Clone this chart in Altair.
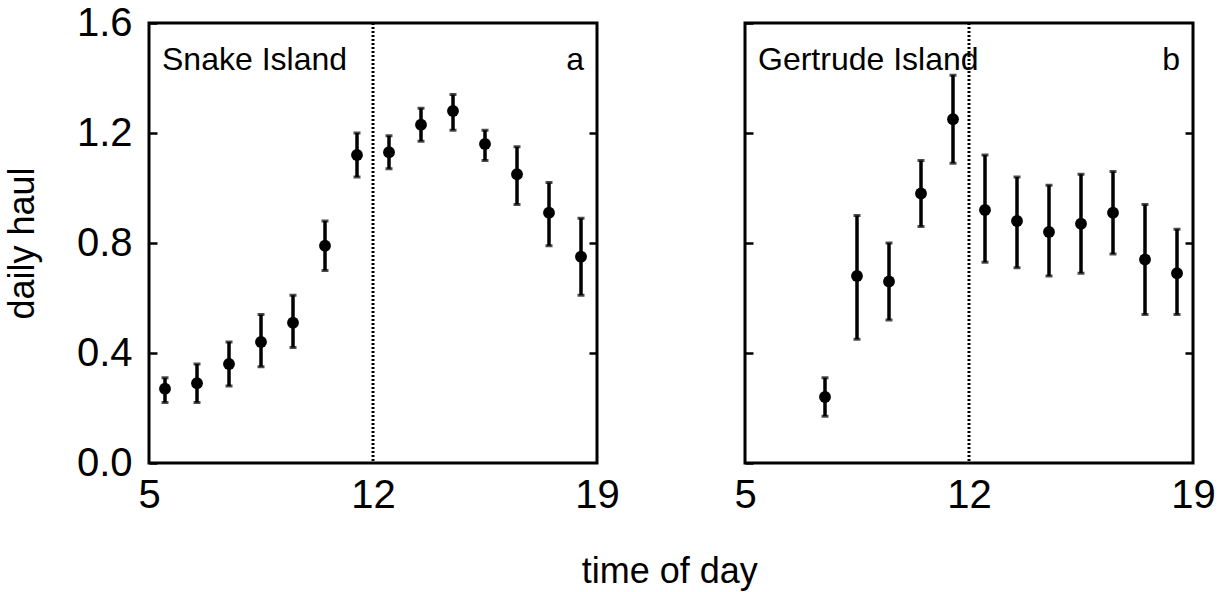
import altair as alt
import pandas as pd

# Hour of day (bin centres) and mean daily haul with error-bar limits
snake_time = [5.5, 6.5, 7.5, 8.5, 9.5, 10.5, 11.5, 12.5, 13.5, 14.5, 15.5, 16.5, 17.5, 18.5]
snake_mean = [0.27, 0.29, 0.36, 0.44, 0.51, 0.79, 1.12, 1.13, 1.23, 1.28, 1.16, 1.05, 0.91, 0.75]
snake_low = [0.22, 0.22, 0.28, 0.35, 0.42, 0.70, 1.04, 1.07, 1.17, 1.21, 1.10, 0.94, 0.79, 0.61]
snake_high = [0.31, 0.36, 0.44, 0.54, 0.61, 0.88, 1.20, 1.19, 1.29, 1.34, 1.21, 1.15, 1.02, 0.89]

gertrude_time = [7.5, 8.5, 9.5, 10.5, 11.5, 12.5, 13.5, 14.5, 15.5, 16.5, 17.5, 18.5]
gertrude_mean = [0.24, 0.68, 0.66, 0.98, 1.25, 0.92, 0.88, 0.84, 0.87, 0.91, 0.74, 0.69]
gertrude_low = [0.17, 0.45, 0.52, 0.86, 1.09, 0.73, 0.71, 0.68, 0.69, 0.76, 0.54, 0.54]
gertrude_high = [0.31, 0.90, 0.80, 1.10, 1.41, 1.12, 1.04, 1.01, 1.05, 1.06, 0.94, 0.85]

noon = [12]
x_ticks = [5, 12, 19]
y_ticks = [0.0, 0.4, 0.8, 1.2, 1.6]

FONT = "Liberation Sans"
PANEL_W = 448
PANEL_H = 440
INNER_TICK = 8


def panel(times, means, lows, highs, name, letter, first):
    df = pd.DataFrame({"time": times, "haul": means, "low": lows, "high": highs})
    noon_df = pd.DataFrame({"time": noon})

    x_axis = alt.Axis(
        values=x_ticks, labelFlush=False, ticks=False, domain=False, grid=False,
        labelPadding=12, labelFontSize=40, labelFont=FONT, labelColor="black",
        title=None,
    )
    x_enc = alt.X("time:Q", scale=alt.Scale(domain=[5, 19], nice=False, zero=False), axis=x_axis)
    y_scale = alt.Scale(domain=[0, 1.6], nice=False, zero=True)

    # inward-pointing ticks on the left edge (labels only on the first panel)
    left_kwargs = dict(
        values=y_ticks, orient="left", offset=-INNER_TICK, tickSize=INNER_TICK,
        tickWidth=2.5, tickColor="black", domain=False, grid=False,
        labels=first, labelFontSize=40, labelFont=FONT, labelColor="black",
        labelPadding=17, format=".1f",
    )
    if first:
        left_kwargs.update(
            title="daily haul", titleFont=FONT, titleFontSize=36,
            titleFontWeight="normal", titleColor="black", titlePadding=35,
        )
    else:
        left_kwargs.update(title=None)
    left_axis = alt.Axis(**left_kwargs)

    # inward-pointing ticks on the right edge
    right_axis = alt.Axis(
        values=[0.4, 0.8, 1.2], orient="right", offset=-INNER_TICK, tickSize=INNER_TICK,
        tickWidth=2.5, tickColor="black", domain=False, grid=False, labels=False,
        title=None,
    )

    base = alt.Chart(df)
    points = base.mark_circle(size=140, color="black", opacity=1).encode(
        x=x_enc, y=alt.Y("haul:Q", scale=y_scale, axis=left_axis)
    )
    bars = base.mark_rule(color="black", strokeWidth=3.5).encode(
        x=x_enc, y=alt.Y("low:Q", scale=y_scale, axis=right_axis), y2="high:Q"
    )
    cap_low = base.mark_tick(orient="horizontal", size=7, thickness=3, color="black").encode(
        x=x_enc, y=alt.Y("low:Q", scale=y_scale, axis=None)
    )
    cap_high = base.mark_tick(orient="horizontal", size=7, thickness=3, color="black").encode(
        x=x_enc, y=alt.Y("high:Q", scale=y_scale, axis=None)
    )
    noon_line = alt.Chart(noon_df).mark_rule(
        color="black", strokeWidth=3, strokeDash=[2, 2]
    ).encode(x=x_enc)

    name_text = alt.Chart(pd.DataFrame({"label": [name]})).mark_text(
        align="left", baseline="alphabetic", fontSize=32, font=FONT, color="black"
    ).encode(x=alt.value(13), y=alt.value(47), text="label:N")
    letter_text = alt.Chart(pd.DataFrame({"label": [letter]})).mark_text(
        align="right", baseline="alphabetic", fontSize=32, font=FONT, color="black"
    ).encode(x=alt.value(435), y=alt.value(47), text="label:N")

    return (
        alt.layer(noon_line, bars, cap_low, cap_high, points, name_text, letter_text)
        .resolve_axis(y="independent")
        .properties(width=PANEL_W, height=PANEL_H)
    )


left = panel(snake_time, snake_mean, snake_low, snake_high, "Snake Island", "a", True)
right = panel(gertrude_time, gertrude_mean, gertrude_low, gertrude_high, "Gertrude Island", "b", False)

chart = (
    alt.hconcat(left, right, spacing=111)
    .properties(
        title=alt.TitleParams(
            text="time of day", orient="bottom", anchor="middle", fontSize=36,
            font=FONT, fontWeight="normal", color="black", offset=38, dx=60,
        ),
        padding={"left": 2, "top": 1, "right": 5, "bottom": 5},
    )
    .configure(background="white")
    .configure_view(stroke="black", strokeWidth=3)
)

chart.save("out.html", embed_options={"renderer": "svg", "actions": False})
